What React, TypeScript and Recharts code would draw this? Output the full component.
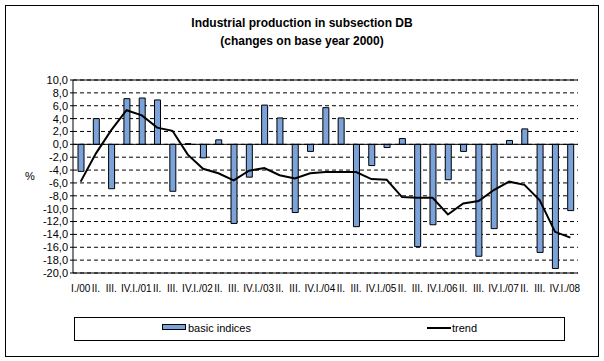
import React from 'react';
import {
  ComposedChart, Bar, Line, XAxis, YAxis, CartesianGrid, ReferenceLine, Legend,
} from 'recharts';

const QUARTERS = [
  'I./00', 'II.', 'III.', 'IV.',
  'I./01', 'II.', 'III.', 'IV.',
  'I./02', 'II.', 'III.', 'IV.',
  'I./03', 'II.', 'III.', 'IV.',
  'I./04', 'II.', 'III.', 'IV.',
  'I./05', 'II.', 'III.', 'IV.',
  'I./06', 'II.', 'III.', 'IV.',
  'I./07', 'II.', 'III.', 'IV.',
  'I./08',
];

const BASIC = [
  -4.2, 4.0, -6.9, 7.1, 7.2, 6.9, -7.3, 0.1, -2.1, 0.7, -12.3, -5.1, 6.1, 4.1, -10.6, -1.1,
  5.7, 4.1, -12.8, -3.3, -0.5, 0.9, -15.9, -12.5, -5.5, -1.1, -17.4, -13.1, 0.6, 2.4, -16.8, -19.3,
  -10.3,
];

const TREND = [
  -5.8, -1.4, 2.2, 5.3, 4.5, 2.6, 2.1, -1.6, -3.8, -4.5, -5.6, -4.1, -3.7, -4.8, -5.3, -4.5,
  -4.3, -4.3, -4.3, -5.4, -5.5, -8.2, -8.3, -8.3, -10.9, -9.2, -8.8, -7.1, -5.8, -6.3, -8.7, -13.6,
  -14.5,
];

const Y_TICKS = [10, 8, 6, 4, 2, 0, -2, -4, -6, -8, -10, -12, -14, -16, -18, -20];

const BAR_FILL = '#7ba3d9';
const FONT = '"Liberation Sans", Arial, sans-serif';

const data = QUARTERS.map((q, i) => ({ q, basic: BASIC[i], trend: TREND[i] }));

const fmt = (v: number) => v.toFixed(1).replace('.', ',');

const LegendBox = () => (
  <div style={{
    width: 491, height: 24, border: '1px solid #000', boxSizing: 'border-box',
    position: 'relative', fontSize: 11, fontFamily: FONT, color: '#000', background: '#fff',
  }}>
    <div style={{
      position: 'absolute', left: 87, top: 6, width: 22, height: 4,
      background: BAR_FILL, border: '1px solid #000',
    }} />
    <span style={{ position: 'absolute', left: 113, top: 4, lineHeight: '12px' }}>basic indices</span>
    <div style={{ position: 'absolute', left: 352, top: 9, width: 24, height: 2, background: '#000' }} />
    <span style={{ position: 'absolute', left: 377, top: 4, lineHeight: '12px' }}>trend</span>
  </div>
);

export default function App() {
  return (
    <div style={{
      position: 'absolute', left: 0, top: 0, width: 604, height: 361,
      background: '#fff', fontFamily: FONT,
    }}>
      <div style={{
        position: 'absolute', left: 5, top: 5, width: 594, height: 352,
        border: '1px solid #000', boxSizing: 'border-box',
      }} />
      <div style={{
        position: 'absolute', left: 0, top: 14, width: 604, textAlign: 'center',
        fontSize: 12, fontWeight: 'bold', lineHeight: '18px', color: '#000',
      }}>
        <div>Industrial production in subsection DB</div>
        <div>(changes on base year 2000)</div>
      </div>
      <ComposedChart
        width={604}
        height={361}
        data={data}
        margin={{ top: 80, right: 26, bottom: 68, left: 33 }}
        style={{ position: 'absolute', left: 0, top: 0 }}
      >
        <CartesianGrid vertical={false} stroke="#000" strokeDasharray="4 3" />
        <XAxis
          dataKey="q"
          interval={0}
          axisLine={false}
          tickLine={false}
          height={20}
          tickMargin={6}
          tick={{ fontSize: 10, fill: '#000', fontFamily: FONT }}
        />
        <YAxis
          domain={[-20, 10]}
          ticks={Y_TICKS}
          interval={0}
          width={40}
          tickFormatter={fmt}
          axisLine={{ stroke: '#000' }}
          tickLine={{ stroke: '#000' }}
          tickSize={3}
          tickMargin={2}
          tick={{ fontSize: 11, fill: '#000', fontFamily: FONT }}
          label={{ value: '%', position: 'insideLeft', offset: -8, fontSize: 11, fill: '#000' }}
        />
        <YAxis
          yAxisId="frame"
          orientation="right"
          domain={[-20, 10]}
          width={0}
          tick={false}
          tickLine={false}
          axisLine={{ stroke: '#000' }}
        />
        <ReferenceLine y={10} stroke="#000" ifOverflow="extendDomain" />
        <ReferenceLine y={-20} stroke="#000" ifOverflow="extendDomain" />
        <Bar
          dataKey="basic"
          name="basic indices"
          fill={BAR_FILL}
          stroke="#000"
          strokeWidth={1}
          barSize={6}
          isAnimationActive={false}
        />
        <ReferenceLine y={0} stroke="#000" />
        <Line
          dataKey="trend"
          name="trend"
          type="linear"
          stroke="#000"
          strokeWidth={2}
          dot={false}
          isAnimationActive={false}
        />
        <Legend
          layout="horizontal"
          verticalAlign="middle"
          align="center"
          wrapperStyle={{ left: 74, top: 317, width: 491, height: 24 }}
          content={() => <LegendBox />}
        />
      </ComposedChart>
    </div>
  );
}
